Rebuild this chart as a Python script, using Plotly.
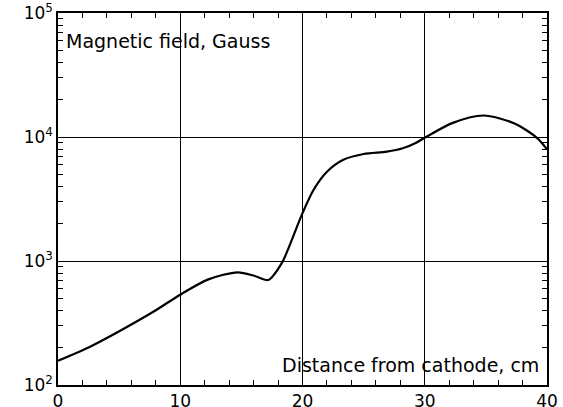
import plotly.graph_objects as go

distance_cm = [0, 2.5, 5.2, 7.9, 10, 12.3, 14.7, 16.1, 17.2, 18.3, 18.8, 20, 20.9, 22,
               23.3, 25, 26.9, 28.2, 29.3, 30.1, 32.3, 34.8, 37.3, 39.2, 40]
field_gauss = [157, 201, 278, 395, 535, 711, 811, 757, 703, 960, 1230, 2430, 3740, 5250,
               6530, 7290, 7620, 8110, 9000, 10000, 13000, 14900, 12900, 9800, 7940]

y_exponents = [2, 3, 4, 5]
y_tickvals = [10 ** e for e in y_exponents]
y_ticktext = [f"10<sup>{e}</sup>" for e in y_exponents]

y_label = "Magnetic field, Gauss"
x_label = "Distance from cathode, cm"

fig = go.Figure()
fig.add_trace(go.Scatter(x=distance_cm, y=field_gauss, mode="lines",
                         line=dict(color="black", width=2.2, shape="spline", smoothing=0.8),
                         hoverinfo="skip", showlegend=False))

font = dict(family="DejaVu Sans, Verdana, sans-serif", size=19, color="black")
tfont = dict(family="DejaVu Sans, Verdana, sans-serif", size=17, color="black")

fig.update_layout(
    width=563, height=407,
    margin=dict(l=58, r=16, t=13, b=22, autoexpand=False),
    paper_bgcolor="white", plot_bgcolor="white",
    font=font,
    xaxis=dict(range=[0, 40], dtick=10, tick0=0, showgrid=True, gridcolor="black", gridwidth=1,
               showline=True, linecolor="black", linewidth=1.5, mirror="allticks",
               ticks="inside", ticklen=5, tickcolor="black", tickwidth=1,
               minor=dict(dtick=2, tick0=0, ticks="inside", ticklen=5, tickcolor="black",
                          tickwidth=1, showgrid=False),
               zeroline=False, tickfont=tfont, automargin=False),
    yaxis=dict(type="log", range=[2, 5], tickmode="array",
               tickvals=y_tickvals, ticktext=y_ticktext,
               showgrid=True, gridcolor="black", gridwidth=1,
               showline=True, linecolor="black", linewidth=1.5, mirror="allticks",
               ticks="inside", ticklen=5, tickcolor="black", tickwidth=1,
               minor=dict(dtick="D1", ticks="inside", ticklen=5, tickcolor="black",
                          tickwidth=1, showgrid=False),
               zeroline=False, tickfont=tfont, automargin=False),
    annotations=[
        dict(text=y_label, xref="paper", yref="paper", x=0.012, y=0.925,
             xanchor="left", yanchor="middle", showarrow=False, font=font),
        dict(text=x_label, xref="paper", yref="paper", x=0.988, y=0.055,
             xanchor="right", yanchor="middle", showarrow=False, font=font),
    ],
)

fig.write_html("out.html", config={"displayModeBar": False},
               post_script="document.body.style.margin='0';document.body.style.padding='0';")
